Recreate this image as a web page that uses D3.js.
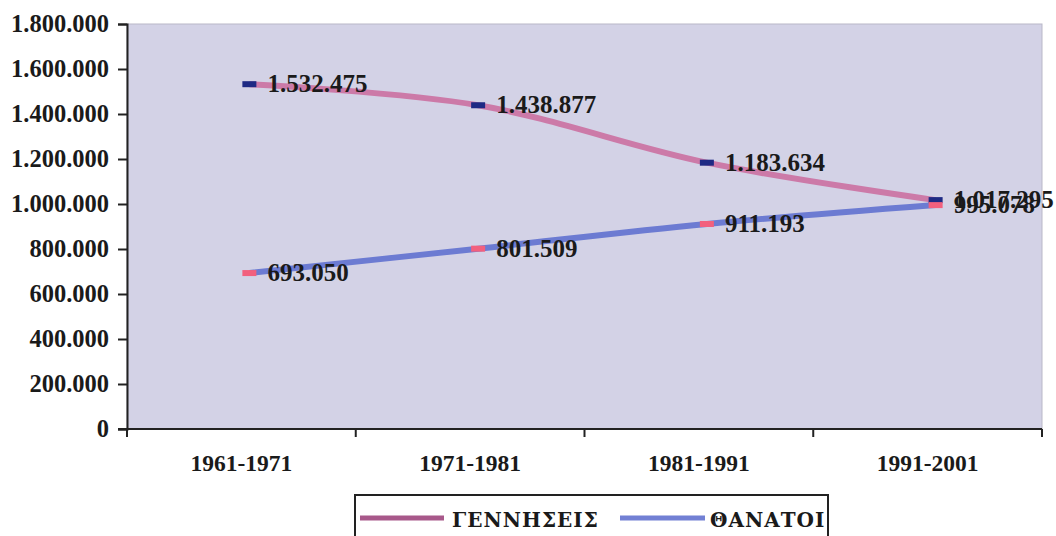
<!DOCTYPE html>
<html>
<head>
<meta charset="utf-8">
<script src="https://cdn.jsdelivr.net/npm/d3@7"></script>
<style>
  body { margin: 0; background: #fff; }
  svg { display: block; }
  svg text { font-family: "Liberation Serif", "Times New Roman", Times, serif; font-weight: bold; }
  svg text.greek { font-family: "DejaVu Serif", serif; }
</style>
</head>
<body>
<svg id="chart" width="1056" height="536"></svg>
<script>
// data
const periods = ["1961-1971", "1971-1981", "1981-1991", "1991-2001"]
const births = [1532475, 1438877, 1183634, 1017295]
const deaths = [693050, 801509, 911193, 995078]
const seriesNames = ["ΓΕΝΝΗΣΕΙΣ", "ΘΑΝΑΤΟΙ"]
const yTicks = [0, 200000, 400000, 600000, 800000, 1000000, 1200000, 1400000, 1600000, 1800000]

const width = 1056
const height = 536
const margin = ({ top: 24, right: 14, bottom: 107, left: 127 })

const svg = d3.select("#chart")
svg.attr("viewBox", [0, 0, width, height])

let x = d3.scaleBand()
    .domain(periods)
    .range([margin.left, width - margin.right])

let y = d3.scaleLinear()
    .domain([0, 1800000])
    .range([height - margin.bottom, margin.top])

const fmt = v => d3.format(",")(v).replace(/,/g, ".")
const px = d => x(d) + x.bandwidth() / 2 + 8

// plot area
svg.append("rect")
    .attr("x", margin.left)
    .attr("y", margin.top)
    .attr("width", width - margin.right - margin.left)
    .attr("height", height - margin.bottom - margin.top)
    .attr("fill", "#d3d2e6")
    .attr("stroke", "#b9b8c8")
    .attr("stroke-width", 1)

// y axis
let yAxis = g => g
    .attr("transform", `translate(${margin.left},0)`)
    .call(d3.axisLeft(y).tickValues(yTicks).tickFormat(fmt).tickSize(9).tickPadding(9))
    .call(g => g.attr("font-family", null))
    .call(g => g.select(".domain").attr("stroke", "#222").attr("stroke-width", 2))
    .call(g => g.selectAll(".tick line").attr("stroke", "#222").attr("stroke-width", 2))
    .call(g => g.selectAll(".tick text")
        .attr("font-size", 24.5)
        .attr("fill", "#1a1a1a"))
svg.append("g").call(yAxis)

// x axis
const xBottom = height - margin.bottom
svg.append("line")
    .attr("x1", margin.left - 9)
    .attr("x2", width - margin.right)
    .attr("y1", xBottom)
    .attr("y2", xBottom)
    .attr("stroke", "#222")
    .attr("stroke-width", 2)

const edges = periods.map(p => x(p)).concat([x(periods[periods.length - 1]) + x.bandwidth()])
svg.append("g").selectAll("line")
    .data(edges)
    .join("line")
    .attr("x1", d => d)
    .attr("x2", d => d)
    .attr("y1", xBottom)
    .attr("y2", xBottom + 8)
    .attr("stroke", "#222")
    .attr("stroke-width", 2)

svg.append("g").selectAll("text")
    .data(periods)
    .join("text")
    .attr("x", d => x(d) + x.bandwidth() / 2)
    .attr("y", xBottom + 42)
    .attr("text-anchor", "middle")
    .attr("font-size", 23.5)
    .attr("fill", "#1a1a1a")
    .text(d => d)

// lines
let line = d3.line()
    .x((d, i) => px(periods[i]))
    .y(d => y(d))
    .curve(d3.curveCatmullRom.alpha(0.5))

const series = [
    { name: seriesNames[0], values: births, color: "#cc7aa8", marker: "#1e2a84", key: "#a8588a" },
    { name: seriesNames[1], values: deaths, color: "#6c7bd2", marker: "#f2607e", key: "#7280d4" }
]

series.forEach(s => {
    svg.append("path")
        .datum(s.values)
        .attr("fill", "none")
        .attr("stroke", s.color)
        .attr("stroke-width", 6)
        .attr("stroke-linecap", "butt")
        .attr("d", line)
})

series.forEach(s => {
    svg.append("g").selectAll("rect")
        .data(s.values)
        .join("rect")
        .attr("x", (d, i) => px(periods[i]) - 7)
        .attr("y", d => y(d) - 3)
        .attr("width", 14)
        .attr("height", 6)
        .attr("fill", s.marker)

    svg.append("g").selectAll("text")
        .data(s.values)
        .join("text")
        .attr("x", (d, i) => px(periods[i]) + 18)
        .attr("y", d => y(d) + 8)
        .attr("font-size", 25)
        .attr("fill", "#1a1a1a")
        .text(d => fmt(d))
})

// legend
const lg = svg.append("g")
lg.append("rect")
    .attr("x", 355)
    .attr("y", 495)
    .attr("width", 473)
    .attr("height", 60)
    .attr("fill", "#fff")
    .attr("stroke", "#222")
    .attr("stroke-width", 2)

const legendItems = [
    { s: series[0], x1: 360, x2: 444, tx: 452 },
    { s: series[1], x1: 620, x2: 705, tx: 710 }
]
legendItems.forEach(it => {
    lg.append("line")
        .attr("x1", it.x1)
        .attr("x2", it.x2)
        .attr("y1", 518)
        .attr("y2", 518)
        .attr("stroke", it.s.key)
        .attr("stroke-width", 5)
    lg.append("text")
        .attr("class", "greek")
        .attr("x", it.tx)
        .attr("y", 527)
        .attr("font-size", 20)
        .attr("letter-spacing", 1)
        .attr("fill", "#1a1a1a")
        .text(it.s.name)
})
</script>
</body>
</html>
